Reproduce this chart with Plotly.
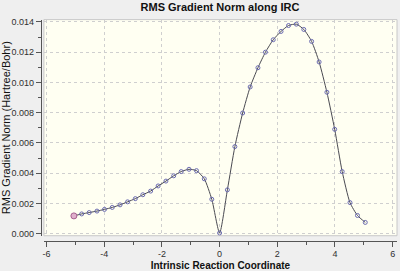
import plotly.graph_objects as go

# Intrinsic reaction coordinate values
irc = [-5.05, -4.78, -4.52, -4.25, -3.99, -3.72, -3.45, -3.19, -2.92, -2.66,
       -2.39, -2.13, -1.86, -1.59, -1.33, -1.06, -0.80, -0.53, -0.27, 0.00,
       0.27, 0.53, 0.80, 1.06, 1.33, 1.59, 1.86, 2.13, 2.39, 2.66,
       2.92, 3.19, 3.45, 3.72, 3.99, 4.25, 4.52, 4.78, 5.05]
# RMS gradient norm (Hartree/Bohr)
rms = [0.00118, 0.00131, 0.00140, 0.00150, 0.00161, 0.00174, 0.00191, 0.00211, 0.00232, 0.00258,
       0.00282, 0.00316, 0.00348, 0.00383, 0.00411, 0.00426, 0.00417, 0.00363, 0.00228, 0.00005,
       0.00290, 0.00576, 0.00798, 0.00970, 0.01097, 0.01200, 0.01282, 0.01337, 0.01376, 0.01385,
       0.01350, 0.01271, 0.01135, 0.00935, 0.00690, 0.00411, 0.00206, 0.00121, 0.00075]
x_ticks = [-6, -4, -2, 0, 2, 4, 6]
x_labels = ["-6", "-4", "-2", "0", "2", "4", "6"]
y_ticks = [0.000, 0.002, 0.004, 0.006, 0.008, 0.010, 0.012, 0.014]
y_labels = ["0.000", "0.002", "0.004", "0.006", "0.008", "0.010", "0.012", "0.014"]

W, H = 400, 271
xd = [43 / W, 397 / W]
yd = [(H - 238) / H, (H - 17) / H]

fig = go.Figure()
fig.add_trace(go.Scatter(
    x=irc, y=rms, mode="lines+markers",
    line=dict(color="#4a4a52", width=1, shape="spline", smoothing=0.6),
    marker=dict(symbol="circle-open", size=4, color="#6b6bb0", line=dict(width=1, color="#6b6bb0")),
    hoverinfo="skip", showlegend=False,
))
fig.add_trace(go.Scatter(
    x=irc[:1], y=rms[:1], mode="markers",
    marker=dict(symbol="circle", size=6, color="#e0b0cc", line=dict(width=1, color="#a86090")),
    hoverinfo="skip", showlegend=False,
))

axis_font = dict(family="Liberation Sans, Arial, sans-serif", size=9, color="#303030")
fig.update_layout(
    width=W, height=H,
    margin=dict(l=0, r=0, t=0, b=0),
    paper_bgcolor="#efefef",
    plot_bgcolor="#fffff2",
    font=dict(family="Liberation Sans, Arial, sans-serif", color="#111111"),
    title=dict(text="<b>RMS Gradient Norm along IRC</b>", x=220 / W, xanchor="center",
               y=1 - 7 / H, yanchor="middle", font=dict(size=11, color="#111111")),
    xaxis=dict(
        domain=xd, range=[-6.09, 6.15], anchor="free", position=(H - 243) / H,
        tickvals=x_ticks, ticktext=x_labels, ticks="outside", ticklen=5, tickcolor="#555555",
        showline=True, linecolor="#555555", linewidth=1,
        minor=dict(ticks="outside", ticklen=3, dtick=1, tick0=0, tickcolor="#555555", showgrid=False),
        showgrid=True, gridcolor="#cfcfcf", griddash="dot", gridwidth=1,
        zeroline=False, tickfont=axis_font,
        title=dict(text="<b>Intrinsic Reaction Coordinate</b>", font=dict(size=10, color="#111111"), standoff=3),
    ),
    yaxis=dict(
        domain=yd, range=[-0.00013, 0.01415], anchor="free", position=40 / W,
        tickvals=y_ticks, ticktext=y_labels,
        ticks="outside", ticklen=5, tickcolor="#555555",
        showline=True, linecolor="#555555", linewidth=1,
        minor=dict(ticks="outside", ticklen=3, dtick=0.001, tick0=0, tickcolor="#555555", showgrid=False),
        showgrid=True, gridcolor="#cfcfcf", griddash="dot", gridwidth=1,
        zeroline=False, tickfont=axis_font,
        title=dict(text="RMS Gradient Norm (Hartree/Bohr)", font=dict(size=11, color="#111111"), standoff=4),
    ),
    shapes=[dict(type="rect", xref="paper", yref="paper", x0=xd[0], x1=xd[1], y0=yd[0], y1=yd[1],
                 line=dict(color="#c8c8c8", width=1), layer="below")],
)
fig.write_html("out.html")
